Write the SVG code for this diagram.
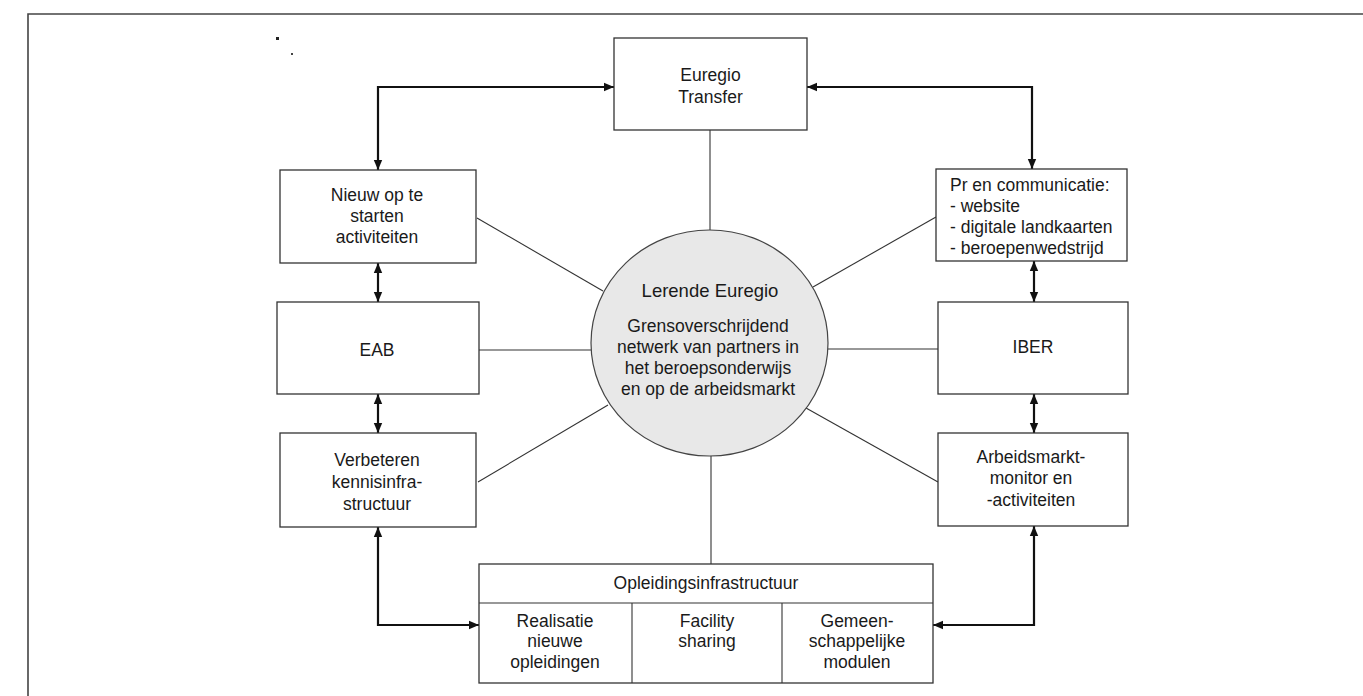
<svg xmlns="http://www.w3.org/2000/svg" width="1363" height="696" viewBox="0 0 1363 696">
<defs>
<marker id="ah" markerUnits="userSpaceOnUse" markerWidth="12" markerHeight="10" refX="10" refY="5" orient="auto-start-reverse" viewBox="0 0 12 10">
<path d="M0,0.8 L10,5 L0,9.2 Z" fill="#111"/>
</marker>
</defs>
<style>
.box{fill:#fff;stroke:#333;stroke-width:1.3}
.t{font-family:"Liberation Sans",Arial,sans-serif;font-size:17.5px;fill:#1a1a1a;text-anchor:middle}
.tl{font-family:"Liberation Sans",Arial,sans-serif;font-size:17.5px;fill:#1a1a1a}
.thin{stroke:#333;stroke-width:1.1;fill:none}
.thick{stroke:#111;stroke-width:2.2;fill:none;marker-start:url(#ah);marker-end:url(#ah)}
</style>
<rect width="1363" height="696" fill="#fff"/>
<path d="M28,696 V14 H1363" fill="none" stroke="#444" stroke-width="1.6"/>
<rect x="276" y="37" width="3" height="3" fill="#222"/>
<rect x="291" y="53" width="2" height="2" fill="#444"/>

<g id="connectors">
<line class="thin" x1="710" y1="130" x2="710" y2="230"/>
<line class="thin" x1="477" y1="218" x2="603" y2="291"/>
<line class="thin" x1="479" y1="350" x2="591" y2="350"/>
<line class="thin" x1="478" y1="482" x2="608" y2="405"/>
<line class="thin" x1="711" y1="456" x2="711" y2="564"/>
<line class="thin" x1="936" y1="217" x2="813" y2="287"/>
<line class="thin" x1="828" y1="349" x2="938" y2="349"/>
<line class="thin" x1="806" y1="408" x2="938" y2="482"/>
<path class="thick" d="M378,170 V87 H614"/>
<path class="thick" d="M807,87 H1032 V169"/>
<path class="thick" d="M378,263 V302"/>
<path class="thick" d="M378,394 V433"/>
<path class="thick" d="M1034,261 V302"/>
<path class="thick" d="M1034,394 V433"/>
<path class="thick" d="M378,527 V625 H479"/>
<path class="thick" d="M1034,526 V625 H933"/>
</g>

<g id="euregio-transfer">
<rect class="box" x="614" y="38" width="193" height="92"/>
<text class="t" x="710.5" y="81">Euregio</text>
<text class="t" x="710.5" y="103">Transfer</text>
</g>

<g id="lerende-euregio">
<ellipse cx="709.5" cy="343" rx="118.5" ry="113" fill="#e8e8e8" stroke="#444" stroke-width="1.2"/>
<text class="t" x="710" y="297" style="font-size:18.5px">Lerende Euregio</text>
<text class="t" x="708" y="332">Grensoverschrijdend</text>
<text class="t" x="708" y="353">netwerk van partners in</text>
<text class="t" x="708" y="374">het beroepsonderwijs</text>
<text class="t" x="708" y="395">en op de arbeidsmarkt</text>
</g>

<g id="nieuw">
<rect class="box" x="280" y="170" width="196" height="93"/>
<text class="t" x="377" y="201">Nieuw op te</text>
<text class="t" x="377" y="222">starten</text>
<text class="t" x="377" y="243">activiteiten</text>
</g>

<g id="eab">
<rect class="box" x="277" y="302" width="202" height="92"/>
<text class="t" x="377" y="356">EAB</text>
</g>

<g id="verbeteren">
<rect class="box" x="280" y="433" width="196" height="94"/>
<text class="t" x="377" y="466">Verbeteren</text>
<text class="t" x="377" y="488">kennisinfra-</text>
<text class="t" x="377" y="510">structuur</text>
</g>

<g id="pr">
<rect class="box" x="936" y="169" width="191" height="92"/>
<text class="tl" x="950" y="191">Pr en communicatie:</text>
<text class="tl" x="950" y="212">- website</text>
<text class="tl" x="950" y="233">- digitale landkaarten</text>
<text class="tl" x="950" y="254">- beroepenwedstrijd</text>
</g>

<g id="iber">
<rect class="box" x="938" y="302" width="190" height="92"/>
<text class="t" x="1033" y="353">IBER</text>
</g>

<g id="arbeidsmarkt">
<rect class="box" x="938" y="433" width="190" height="93"/>
<text class="t" x="1031" y="463">Arbeidsmarkt-</text>
<text class="t" x="1031" y="484">monitor en</text>
<text class="t" x="1031" y="506">-activiteiten</text>
</g>

<g id="opleidingsinfrastructuur">
<rect class="box" x="479" y="564" width="454" height="119"/>
<line class="thin" x1="479" y1="603" x2="933" y2="603"/>
<line class="thin" x1="632" y1="603" x2="632" y2="683"/>
<line class="thin" x1="782" y1="603" x2="782" y2="683"/>
<text class="t" x="706" y="589">Opleidingsinfrastructuur</text>
<text class="t" x="555" y="627">Realisatie</text>
<text class="t" x="555" y="647">nieuwe</text>
<text class="t" x="555" y="668">opleidingen</text>
<text class="t" x="707" y="627">Facility</text>
<text class="t" x="707" y="647">sharing</text>
<text class="t" x="857" y="627">Gemeen-</text>
<text class="t" x="857" y="647">schappelijke</text>
<text class="t" x="857" y="668">modulen</text>
</g>
</svg>
